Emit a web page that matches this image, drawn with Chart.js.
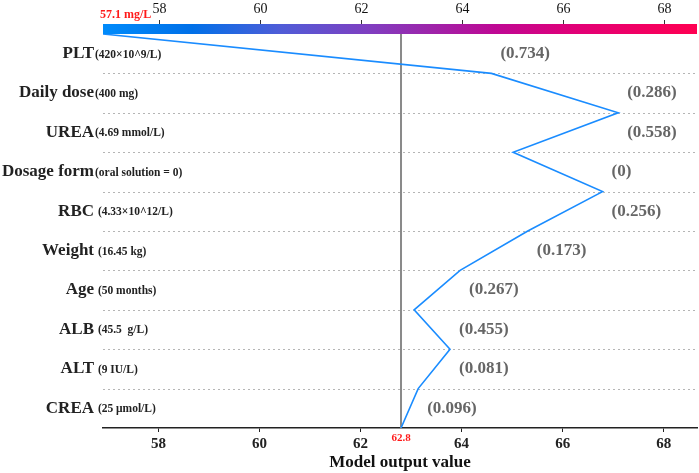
<!DOCTYPE html>
<html>
<head>
<meta charset="utf-8">
<script src="https://cdn.jsdelivr.net/npm/chart.js@4.4.1/dist/chart.umd.min.js"></script>
<style>
  html, body { margin: 0; padding: 0; background: #fff; }
</style>
</head>
<body>
<canvas id="decisionChart" width="699" height="473"></canvas>
<script>
// features, top row first
const features = ["PLT", "Daily dose", "UREA", "Dosage form", "RBC", "Weight", "Age", "ALB", "ALT", "CREA"];
const featureUnits = ["(420×10^9/L)", "(400 mg)", "(4.69 mmol/L)", "(oral solution = 0)", " (4.33×10^12/L)",
  " (16.45 kg)", " (50 months)", " (45.5  g/L)", " (9 IU/L)", " (25 μmol/L)"];
const featureValues = ["(0.734)", "(0.286)", "(0.558)", "(0)", "(0.256)", "(0.173)", "(0.267)", "(0.455)", "(0.081)", "(0.096)"];

// model output after each feature, from base value (bottom) to prediction (top)
const outputPath = [62.8, 63.14, 63.77, 63.06, 63.97, 65.31, 66.79, 65.02, 67.10, 64.59, 56.9];
const baseValue = 62.8;
const baseLabel = "62.8";
const outputLabel = "57.1 mg/L";
const xTicks = [58, 60, 62, 64, 66, 68];
const xMin = 56.9;
const xMax = 68.66;

const serif = "'Liberation Serif', 'Times New Roman', serif";

// colorbar stops (blue -> purple -> red)
const barStops = [
  [0, "rgb(0,139,251)"],
  [0.15, "rgb(0,112,232)"],
  [0.3, "rgb(80,92,215)"],
  [0.45, "rgb(128,62,192)"],
  [0.56, "rgb(160,34,168)"],
  [0.66, "rgb(190,8,148)"],
  [0.8, "rgb(226,0,118)"],
  [1, "rgb(255,0,82)"],
];

const decorations = {
  id: "decorations",
  beforeDatasetsDraw(chart) {
    const { ctx, chartArea: area, scales: { x, y } } = chart;
    ctx.save();
    // dotted row separators
    ctx.strokeStyle = "#b5b5b5";
    ctx.lineWidth = 1;
    ctx.setLineDash([2, 3]);
    for (let i = 1; i < outputPath.length - 1; i++) {
      const py = Math.round(y.getPixelForValue(i)) + 0.5;
      ctx.beginPath();
      ctx.moveTo(area.left, py);
      ctx.lineTo(area.right, py);
      ctx.stroke();
    }
    ctx.setLineDash([]);
    // base value line
    const bx = x.getPixelForValue(baseValue);
    ctx.strokeStyle = "#8a8a8a";
    ctx.lineWidth = 2;
    ctx.beginPath();
    ctx.moveTo(bx, area.top);
    ctx.lineTo(bx, area.bottom);
    ctx.stroke();
    ctx.restore();
  },
  afterDraw(chart) {
    const { ctx, chartArea: area, scales: { x, y } } = chart;
    ctx.save();

    // colorbar on top
    const barTop = area.top - 10;
    const grad = ctx.createLinearGradient(area.left, 0, area.right, 0);
    barStops.forEach(s => grad.addColorStop(s[0], s[1]));
    ctx.fillStyle = grad;
    ctx.fillRect(area.left, barTop, area.right - area.left, 10);

    ctx.strokeStyle = "#333";
    ctx.lineWidth = 1;
    ctx.fillStyle = "#111";
    ctx.font = "14px " + serif;
    ctx.textAlign = "center";
    ctx.textBaseline = "middle";
    xTicks.forEach(v => {
      const px = Math.round(x.getPixelForValue(v)) + 0.5;
      ctx.beginPath();
      ctx.moveTo(px, barTop - 4);
      ctx.lineTo(px, barTop);
      ctx.stroke();
      ctx.fillText(String(v), px, 9);
    });

    // prediction label
    ctx.fillStyle = "#ff1a1a";
    ctx.font = "bold 12px " + serif;
    ctx.textAlign = "left";
    ctx.fillText(outputLabel, 100, 15);

    // base value label
    ctx.font = "bold 11px " + serif;
    ctx.textAlign = "center";
    ctx.fillText(baseLabel, x.getPixelForValue(baseValue), area.bottom + 10);

    // feature labels and values
    features.forEach((name, k) => {
      const cy = y.getPixelForValue(outputPath.length - 1.5 - k);
      ctx.fillStyle = "#222";
      ctx.font = "bold 17px " + serif;
      ctx.textAlign = "right";
      ctx.fillText(name, 94, cy);
      ctx.font = "bold 11.5px " + serif;
      ctx.textAlign = "left";
      ctx.fillText(featureUnits[k], 95, cy + 1);

      const lo = outputPath[outputPath.length - 2 - k];
      const hi = outputPath[outputPath.length - 1 - k];
      const ax = Math.max(x.getPixelForValue(lo), x.getPixelForValue(hi)) + 9;
      ctx.fillStyle = "#666";
      ctx.font = "bold 17px " + serif;
      ctx.fillText(featureValues[k], ax, cy);
    });
    ctx.restore();
  },
};

new Chart(document.getElementById("decisionChart"), {
  type: "line",
  data: {
    datasets: [
      {
        data: outputPath.map((v, i) => ({ x: v, y: i })),
        borderColor: "#1a8cff",
        borderWidth: 1.6,
        pointRadius: 0,
        tension: 0,
        fill: false,
      },
    ],
  },
  options: {
    responsive: false,
    animation: false,
    layout: { padding: { left: 103, right: 2, top: 34, bottom: 0 } },
    plugins: { legend: { display: false }, tooltip: { enabled: false } },
    scales: {
      x: {
        type: "linear",
        min: xMin,
        max: xMax,
        afterBuildTicks: s => { s.ticks = xTicks.map(v => ({ value: v })); },
        afterFit: s => { s.height = 45; },
        grid: { drawOnChartArea: false, drawTicks: true, tickLength: 4, color: "#222" },
        border: { display: true, color: "#222", width: 1.5 },
        ticks: { font: { family: serif, size: 15, weight: "bold" }, color: "#222", padding: 3, maxRotation: 0 },
        title: {
          display: true,
          text: "Model output value",
          font: { family: serif, size: 17, weight: "bold" },
          color: "#111",
          padding: { top: 0, bottom: 0 },
        },
      },
      y: { type: "linear", min: 0, max: 10, display: false },
    },
  },
  plugins: [decorations],
});
</script>
</body>
</html>
